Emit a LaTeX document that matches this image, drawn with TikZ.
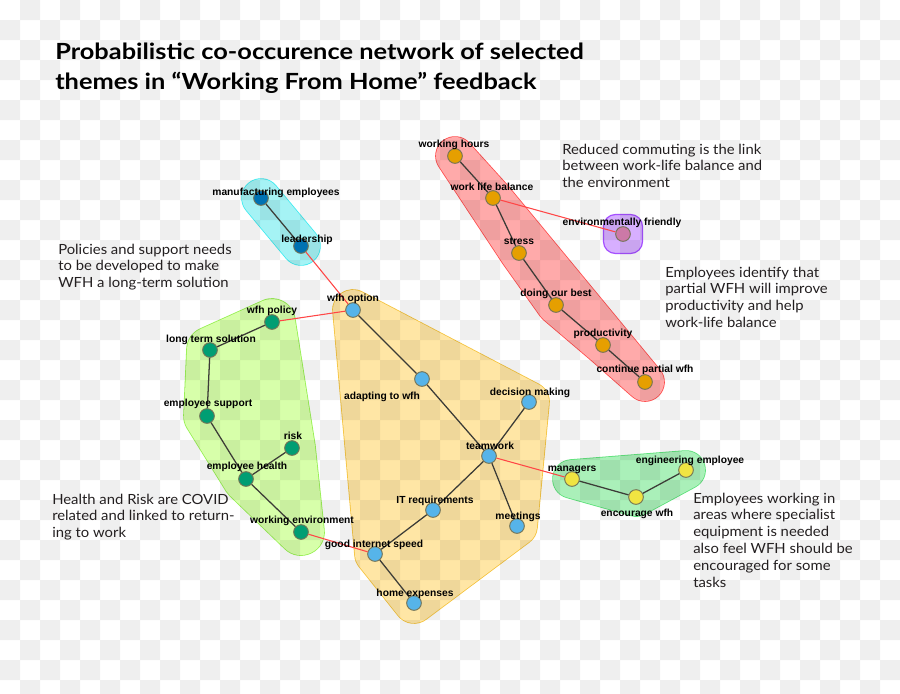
\documentclass[tikz,border=0pt]{standalone}
\usepackage{fontspec}
\setmainfont{Lato}
\newfontfamily\lblfont{Liberation Sans}
\newfontfamily\notefont[FakeStretch=1.06]{Lato}
\newfontfamily\titlefont[FakeStretch=1.14]{Lato}
\usetikzlibrary{calc}
\definecolor{okorange}{HTML}{E69F00}
\definecolor{oksky}{HTML}{56B4E9}
\definecolor{okgreen}{HTML}{009E73}
\definecolor{okyellow}{HTML}{F0E442}
\definecolor{okblue}{HTML}{0072B2}
\definecolor{okpink}{HTML}{CC79A7}
\definecolor{ndborder}{RGB}{115,115,85}
\definecolor{blkedge}{RGB}{60,60,55}
\definecolor{rededge}{RGB}{255,70,70}
\definecolor{notetext}{RGB}{35,31,32}
\definecolor{cyanO}{RGB}{60,235,240}
\definecolor{cyanF}{RGB}{165,243,245}
\definecolor{redO}{RGB}{255,75,75}
\definecolor{redF}{RGB}{255,170,170}
\definecolor{purO}{RGB}{165,80,255}
\definecolor{purF}{RGB}{215,175,255}
\definecolor{limeO}{RGB}{150,240,80}
\definecolor{limeF}{RGB}{215,255,170}
\definecolor{yelO}{RGB}{245,195,60}
\definecolor{yelF}{RGB}{255,230,165}
\definecolor{grnO}{RGB}{90,225,120}
\definecolor{grnF}{RGB}{170,240,185}
\newcommand\hullpath[4]{%
  \draw[#1, line width={(2*#3+1.6)*0.75pt}, line join=round, line cap=round] #4;
  \draw[#2, fill=#2, line width={2*#3*0.75pt}, line join=round, line cap=round] #4;
}
\tikzset{
  nd/.style={circle, draw=ndborder, line width=0.7pt, minimum size=11pt, inner sep=0pt},
  blk/.style={draw=blkedge, line width=0.95pt},
  redl/.style={draw=rededge, line width=0.8pt},
  lbl/.style={font=\lblfont\bfseries\fontsize{7.7}{8}\selectfont, inner sep=0pt, anchor=base, text=black},
  note/.style={font=\notefont\fontsize{10.5}{12.6}\selectfont, text=notetext, align=left, inner sep=0pt, anchor=base west},
  ttl/.style={font=\titlefont\bfseries\fontsize{16.7}{22.5}\selectfont, text=black, align=left, inner sep=0pt, anchor=base west}
}
\begin{document}
\begin{tikzpicture}[x=0.75pt,y=-0.75pt]
\useasboundingbox (0,0) rectangle (900,693);
\fill[white] (0,0) rectangle (900,693);
% positions
\coordinate (p-wh) at (455,156);
\coordinate (p-wlb) at (493,198);
\coordinate (p-env) at (623,234);
\coordinate (p-str) at (519,253);
\coordinate (p-dob) at (556,305);
\coordinate (p-prod) at (603,345);
\coordinate (p-cpw) at (645,382);
\coordinate (p-mfg) at (261,198);
\coordinate (p-lead) at (301,246);
\coordinate (p-wopt) at (353,310);
\coordinate (p-wpol) at (272,322);
\coordinate (p-lts) at (210,350);
\coordinate (p-esup) at (207,416);
\coordinate (p-risk) at (292,448);
\coordinate (p-ehl) at (246,479);
\coordinate (p-wenv) at (301,532);
\coordinate (p-adapt) at (422,379);
\coordinate (p-dec) at (529,402);
\coordinate (p-team) at (489,456);
\coordinate (p-itr) at (433,510);
\coordinate (p-meet) at (517,526);
\coordinate (p-gis) at (375,554);
\coordinate (p-home) at (414,603);
\coordinate (p-mgr) at (572,479);
\coordinate (p-enc) at (636,497);
\coordinate (p-eng) at (686,470);
% hulls
\hullpath{cyanO}{cyanF}{19}{(p-mfg) -- (p-lead)}
\hullpath{redO}{redF}{19}{(p-wh) -- (p-wlb) -- (p-cpw) -- (p-prod) -- (p-dob) -- (p-str) -- cycle}
\hullpath{limeO}{limeF}{23}{(p-wpol) -- (p-risk) -- (p-wenv) -- (p-ehl) -- (p-esup) -- (p-lts) -- cycle}
\hullpath{yelO}{yelF}{20}{(p-wopt) -- (p-dec) -- (p-meet) -- (p-home) -- (p-gis) -- cycle}
\hullpath{grnO}{grnF}{19}{(p-mgr) -- (p-enc) -- (p-eng) -- cycle}
\draw[purO, fill=purF, line width=0.9pt, rounded corners=9pt] (603.5,214.5) rectangle (642.5,253.5);
% checkerboard
\foreach \j in {0,...,34}{
  \pgfmathtruncatemacro\off{20*(1-mod(\j,2))}
  \fill[black, fill opacity=0.0627] \foreach \i in {0,...,22}{ ({\off+40*\i},{20*\j}) rectangle ++(20,20) };
}
% nodes
\node[nd, fill=okorange] (wh) at (p-wh) {};
\node[nd, fill=okorange] (wlb) at (p-wlb) {};
\node[nd, fill=okpink] (env) at (p-env) {};
\node[nd, fill=okorange] (str) at (p-str) {};
\node[nd, fill=okorange] (dob) at (p-dob) {};
\node[nd, fill=okorange] (prod) at (p-prod) {};
\node[nd, fill=okorange] (cpw) at (p-cpw) {};
\node[nd, fill=okblue] (mfg) at (p-mfg) {};
\node[nd, fill=okblue] (lead) at (p-lead) {};
\node[nd, fill=oksky] (wopt) at (p-wopt) {};
\node[nd, fill=okgreen] (wpol) at (p-wpol) {};
\node[nd, fill=okgreen] (lts) at (p-lts) {};
\node[nd, fill=okgreen] (esup) at (p-esup) {};
\node[nd, fill=okgreen] (risk) at (p-risk) {};
\node[nd, fill=okgreen] (ehl) at (p-ehl) {};
\node[nd, fill=okgreen] (wenv) at (p-wenv) {};
\node[nd, fill=oksky] (adapt) at (p-adapt) {};
\node[nd, fill=oksky] (dec) at (p-dec) {};
\node[nd, fill=oksky] (team) at (p-team) {};
\node[nd, fill=oksky] (itr) at (p-itr) {};
\node[nd, fill=oksky] (meet) at (p-meet) {};
\node[nd, fill=oksky] (gis) at (p-gis) {};
\node[nd, fill=oksky] (home) at (p-home) {};
\node[nd, fill=okyellow] (mgr) at (p-mgr) {};
\node[nd, fill=okyellow] (enc) at (p-enc) {};
\node[nd, fill=okyellow] (eng) at (p-eng) {};
% edges
\draw[blk] (wh) -- (wlb);
\draw[blk] (wlb) -- (str);
\draw[blk] (str) -- (dob);
\draw[blk] (dob) -- (prod);
\draw[blk] (prod) -- (cpw);
\draw[blk] (mfg) -- (lead);
\draw[blk] (wpol) -- (lts);
\draw[blk] (lts) -- (esup);
\draw[blk] (esup) -- (ehl);
\draw[blk] (ehl) -- (risk);
\draw[blk] (ehl) -- (wenv);
\draw[blk] (wopt) -- (adapt);
\draw[blk] (adapt) -- (team);
\draw[blk] (team) -- (dec);
\draw[blk] (team) -- (itr);
\draw[blk] (team) -- (meet);
\draw[blk] (itr) -- (gis);
\draw[blk] (gis) -- (home);
\draw[blk] (mgr) -- (enc);
\draw[blk] (enc) -- (eng);
\draw[redl] (wlb) -- (env);
\draw[redl] (lead) -- (wopt);
\draw[redl] (wopt) -- (wpol);
\draw[redl] (wenv) -- (gis);
\draw[redl] (team) -- (mgr);
% labels
\node[lbl] (l-wh) at (454,147) {working hours};
\node[lbl] (l-wlb) at (492,190) {work life balance};
\node[lbl] (l-env) at (622,225) {environmentally friendly};
\node[lbl] (l-str) at (519,244) {stress};
\node[lbl] (l-dob) at (556,296) {doing our best};
\node[lbl] (l-prod) at (603,336) {productivity};
\node[lbl] (l-cpw) at (645,372) {continue partial wfh};
\node[lbl] (l-mfg) at (276,195) {manufacturing employees};
\node[lbl] (l-lead) at (307,242) {leadership};
\node[lbl] (l-wopt) at (353,301) {wfh option};
\node[lbl] (l-wpol) at (272,313) {wfh policy};
\node[lbl] (l-lts) at (211,342) {long term solution};
\node[lbl] (l-esup) at (208,406) {employee support};
\node[lbl] (l-risk) at (293,439) {risk};
\node[lbl] (l-ehl) at (247,469) {employee health};
\node[lbl] (l-wenv) at (302,523) {working environment};
\node[lbl] (l-adapt) at (382,399) {adapting to wfh};
\node[lbl] (l-dec) at (530,395) {decision making};
\node[lbl] (l-team) at (490,449) {teamwork};
\node[lbl] (l-itr) at (435,503) {IT requirements};
\node[lbl] (l-meet) at (518,519) {meetings};
\node[lbl] (l-gis) at (374,547) {good internet speed};
\node[lbl] (l-home) at (415,596) {home expenses};
\node[lbl] (l-mgr) at (572,471) {managers};
\node[lbl] (l-enc) at (637,516) {encourage wfh};
\node[lbl] (l-eng) at (690,463) {engineering employee};
% title and notes
\node[ttl] (title) at (55,89) {Probabilistic co-occurence network of selected\\themes in “Working From Home” feedback};
\node[note] (n1) at (58,287.6) {Policies and support needs\\to be developed to make\\WFH a long-term solution};
\node[note] (n2) at (52,537.6) {Health and Risk are COVID\\related and linked to return-\\ing to work};
\node[note] (n3) at (562,187.6) {Reduced commuting is the link\\between work-life balance and\\the environment};
\node[note] (n4) at (665,327.4) {Employees identify that\\partial WFH will improve\\productivity and help\\work-life balance};
\node[note] (n5) at (693,587) {Employees working in\\areas where specialist\\equipment is needed\\also feel WFH should be\\encouraged for some\\tasks};
\end{tikzpicture}
\end{document}
